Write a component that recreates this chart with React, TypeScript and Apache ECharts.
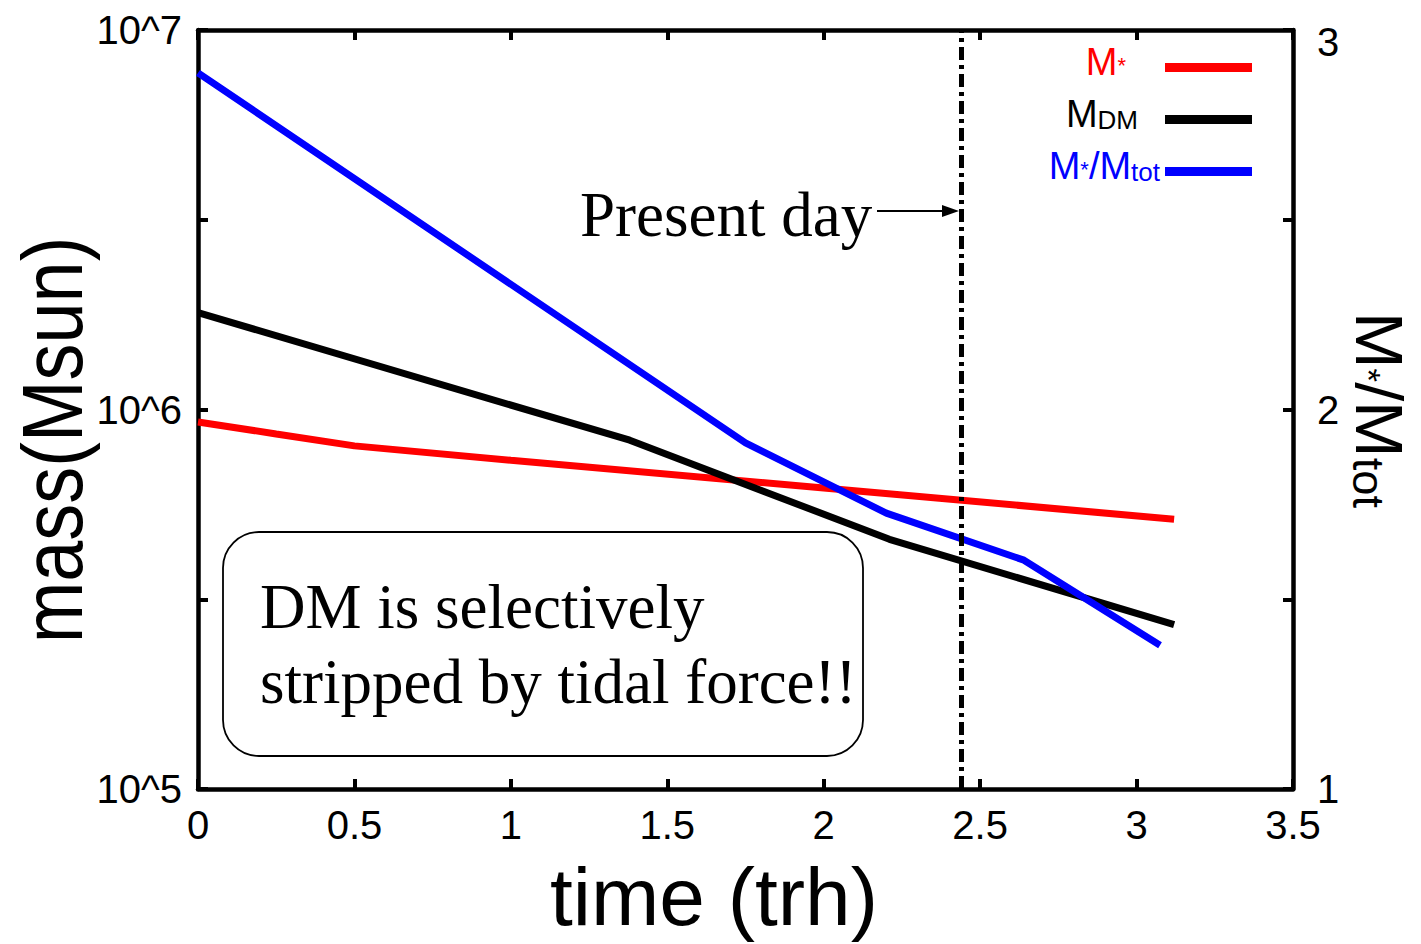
import React, { useEffect, useRef } from 'react';
import * as echarts from 'echarts';

// ---- data ----
const timeStar = [0, 0.25, 0.5, 1.0, 2.0, 3.12];
const massStar = [9.27e5, 8.62e5, 8.02e5, 7.35e5, 6.21e5, 5.14e5];
const timeDM = [0, 1.38, 2.21, 3.12];
const massDM = [1.8e6, 8.3e5, 4.55e5, 2.71e5];
const timeRatio = [0, 1.75, 2.2, 2.64, 3.075];
const ratioValues = [2.887, 1.912, 1.727, 1.603, 1.379];
const presentDay = [2.442];

const xRange = [0, 3.5];
const xStep = 0.5;
const massRange = [1e5, 1e7];
const ratioRange = [1, 3];
const ratioStep = 0.5;

const seriesNames = ['M*', 'MDM', 'M*/Mtot'];
const seriesColors = ['#ff0000', '#000000', '#0000ff'];

const SANS = '"Liberation Sans", Arial, Helvetica, sans-serif';
const SERIF = '"Liberation Serif", "Times New Roman", Times, serif';

const zip = (xs: number[], ys: number[]) => xs.map((x, i) => [x, ys[i]]);

const legendFormat: Record<string, string> = {
  'M*': '{rM|M}{rS|*}',
  'MDM': '{kM|M}{kD|DM}',
  'M*/Mtot': '{bM|M}{bS|*}{bM|/M}{bT|tot}',
};

const tok = (size: number, color: string, va: string = 'bottom', lh?: number, padRight = 0) => ({
  fontSize: size,
  color,
  fontFamily: SANS,
  verticalAlign: va,
  lineHeight: lh ?? Math.round(size * 0.7),
  padding: [0, padRight, 0, 0],
});

const legendRich = {
  rM: tok(38, seriesColors[0]),
  rS: tok(22, seriesColors[0], 'top', 22, 34),
  kM: tok(38, seriesColors[1]),
  kD: tok(26, seriesColors[1], 'bottom', undefined, 22),
  bM: tok(38, seriesColors[2]),
  bS: tok(22, seriesColors[2], 'top', 22),
  bT: tok(26, seriesColors[2]),
};

const axisLineStyle = { show: true, onZero: false, lineStyle: { color: '#000', width: 4.5 } };
const axisTickStyle = { show: true, inside: true, length: 10, lineStyle: { color: '#000', width: 4 } };
const labelStyle = { color: '#000', fontSize: 40, fontFamily: SANS };

function buildOption(): any {
  return {
    animation: false,
    backgroundColor: '#ffffff',
    grid: { left: 198, right: 128, top: 30, bottom: 155, containLabel: false },
    xAxis: [
      {
        type: 'value',
        min: xRange[0],
        max: xRange[1],
        interval: xStep,
        position: 'bottom',
        axisLine: axisLineStyle,
        axisTick: axisTickStyle,
        axisLabel: { ...labelStyle, margin: 16 },
        splitLine: { show: false },
      },
      {
        type: 'value',
        min: xRange[0],
        max: xRange[1],
        interval: xStep,
        position: 'top',
        axisLine: axisLineStyle,
        axisTick: axisTickStyle,
        axisLabel: { show: false },
        splitLine: { show: false },
      },
    ],
    yAxis: [
      {
        type: 'log',
        logBase: 10,
        min: massRange[0],
        max: massRange[1],
        interval: 0.5,
        position: 'left',
        axisLine: axisLineStyle,
        axisTick: axisTickStyle,
        axisLabel: {
          ...labelStyle,
          margin: 16,
          formatter: (v: number) => {
            const l = Math.log10(v);
            return Math.abs(l - Math.round(l)) < 1e-6 ? '10^' + Math.round(l) : '';
          },
        },
        splitLine: { show: false },
      },
      {
        type: 'value',
        min: ratioRange[0],
        max: ratioRange[1],
        interval: ratioStep,
        position: 'right',
        axisLine: axisLineStyle,
        axisTick: axisTickStyle,
        axisLabel: {
          ...labelStyle,
          margin: 24,
          formatter: (v: number) => {
            if (Math.abs(v - Math.round(v)) > 1e-6) return '';
            const s = String(Math.round(v));
            return v >= ratioRange[1] ? '{hi|' + s + '}' : s;
          },
          rich: { hi: { fontSize: 40, fontFamily: SANS, color: '#000', padding: [24, 0, 0, 0] } },
        },
        splitLine: { show: false },
      },
    ],
    legend: {
      show: true,
      orient: 'vertical',
      right: 164,
      top: 38,
      align: 'right',
      icon: 'rect',
      itemWidth: 87,
      itemHeight: 9,
      itemGap: 14,
      selectedMode: false,
      data: seriesNames,
      formatter: (name: string) => legendFormat[name],
      textStyle: { fontFamily: SANS, fontSize: 38, rich: legendRich },
    },
    series: [
      {
        name: seriesNames[0],
        type: 'line',
        xAxisIndex: 0,
        yAxisIndex: 0,
        data: zip(timeStar, massStar),
        showSymbol: false,
        symbol: 'none',
        color: seriesColors[0],
        lineStyle: { color: seriesColors[0], width: 7 },
        z: 2,
      },
      {
        name: seriesNames[1],
        type: 'line',
        xAxisIndex: 0,
        yAxisIndex: 0,
        data: zip(timeDM, massDM),
        showSymbol: false,
        symbol: 'none',
        color: seriesColors[1],
        lineStyle: { color: seriesColors[1], width: 7 },
        z: 3,
      },
      {
        name: seriesNames[2],
        type: 'line',
        xAxisIndex: 0,
        yAxisIndex: 1,
        data: zip(timeRatio, ratioValues),
        showSymbol: false,
        symbol: 'none',
        color: seriesColors[2],
        lineStyle: { color: seriesColors[2], width: 7 },
        z: 4,
      },
      {
        name: 'present',
        type: 'line',
        xAxisIndex: 0,
        yAxisIndex: 0,
        data: [],
        z: 6,
        markLine: {
          silent: true,
          symbol: ['none', 'none'],
          label: { show: false },
          lineStyle: { color: '#000', width: 5, type: [13, 5, 4, 5] },
          data: presentDay.map((x) => ({ xAxis: x })),
        },
      },
    ],
    graphic: [
      {
        type: 'text',
        x: 52,
        y: 440,
        rotation: Math.PI / 2,
        scaleX: 0.86,
        style: {
          text: 'mass(Msun)',
          fontSize: 86,
          fontFamily: SANS,
          fill: '#000',
          align: 'center',
          verticalAlign: 'middle',
        },
      },
      {
        type: 'text',
        x: 714,
        y: 896,
        style: {
          text: 'time (trh)',
          fontSize: 82,
          fontFamily: SANS,
          fill: '#000',
          align: 'center',
          verticalAlign: 'middle',
        },
      },
      {
        type: 'text',
        x: 1369,
        y: 410,
        rotation: -Math.PI / 2,
        scaleX: 1.03,
        style: {
          text: '{m|M}{s|*}{m|/M}{t|tot}',
          fill: '#000',
          align: 'center',
          verticalAlign: 'middle',
          rich: {
            m: { fontSize: 66, fontFamily: SANS, fill: '#000', verticalAlign: 'bottom', lineHeight: 46 },
            s: { fontSize: 34, fontFamily: SANS, fill: '#000', verticalAlign: 'middle', lineHeight: 46 },
            t: { fontSize: 44, fontFamily: SANS, fill: '#000', verticalAlign: 'bottom', lineHeight: 31 },
          },
        },
      },
      {
        type: 'text',
        x: 580,
        y: 215,
        style: {
          text: 'Present day',
          fontSize: 63,
          fontFamily: SERIF,
          fill: '#000',
          align: 'left',
          verticalAlign: 'middle',
        },
      },
      {
        type: 'line',
        shape: { x1: 877, y1: 211, x2: 945, y2: 211 },
        style: { stroke: '#000', lineWidth: 2 },
      },
      {
        type: 'polygon',
        shape: { points: [[942, 205], [959, 211], [942, 217]] },
        style: { fill: '#000' },
      },
      {
        type: 'rect',
        shape: { x: 223, y: 532, width: 640, height: 224, r: 36 },
        style: { fill: '#fff', stroke: '#000', lineWidth: 1.8 },
        z: 10,
      },
      {
        type: 'text',
        x: 260,
        y: 607,
        z: 11,
        style: {
          text: 'DM is selectively',
          fontSize: 63,
          fontFamily: SERIF,
          fill: '#000',
          align: 'left',
          verticalAlign: 'middle',
        },
      },
      {
        type: 'text',
        x: 260,
        y: 682,
        z: 11,
        style: {
          text: 'stripped by tidal force!!',
          fontSize: 63,
          fontFamily: SERIF,
          fill: '#000',
          align: 'left',
          verticalAlign: 'middle',
        },
      },
    ],
  };
}

export default function App() {
  const ref = useRef<HTMLDivElement>(null);
  useEffect(() => {
    if (!ref.current) return;
    const chart = echarts.init(ref.current, null, { renderer: 'svg' });
    chart.setOption(buildOption());
    return () => chart.dispose();
  }, []);
  return (
    <div
      ref={ref}
      style={{ position: 'fixed', left: 0, top: 0, width: 1421, height: 944, background: '#fff' }}
    />
  );
}
